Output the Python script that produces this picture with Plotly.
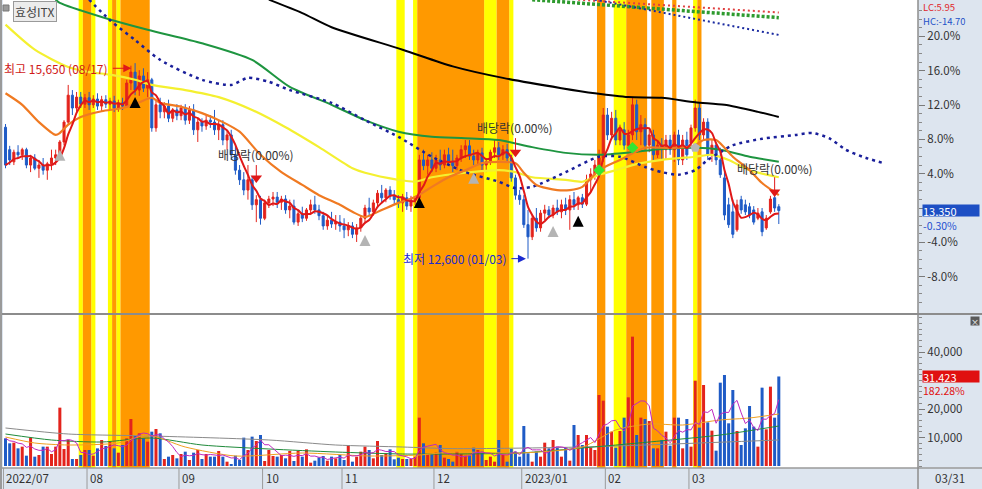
import plotly.graph_objects as go
import pandas as pd

# ---------------- data (daily candles 2022-07-04 .. 2023-03-31, KRW) ----------------
month_labels = ['2022/07', '08', '09', '10', '11', '12', '2023/01', '02', '03']
month_start_idx = [0, 20, 42, 62, 81, 103, 124, 144, 164]
last_date_label = '03/31'

open_ = [14650,14300,14110,14260,14220,14300,14060,14170,14010,14060,
         13980,14080,14170,14220,14420,14730,15150,14950,15120,15010,
         15110,15000,15090,14980,15080,15010,15060,14950,15030,14980,
         15340,15510,15230,15450,15260,15390,14640,15000,14890,14980,
         14790,14920,14830,14950,14760,14920,14610,14730,14670,14760,
         14730,14610,14690,14450,14530,14220,13980,13830,13670,13830,
         13440,13520,13230,13470,13530,13560,13480,13530,13360,13420,
         13170,13300,13230,13360,13440,13360,13270,13110,13200,13140,
         13170,13110,13050,13110,12980,13080,13230,13390,13330,13470,
         13620,13550,13670,13580,13520,13470,13550,13420,13520,13550,
         14140,14050,14140,14010,14140,14060,14220,14110,14050,14170,
         14300,14360,14200,14140,14250,14060,14110,14260,14330,14220,
         14300,14170,13860,13590,13520,13130,12940,13230,13080,13310,
         13360,13280,13390,13330,13440,13360,13520,13440,13550,13450,
         13830,13920,14060,14170,14840,14530,14790,14450,14610,14370,
         14530,15000,14580,14690,14370,14530,14220,14370,14300,14450,
         14300,14530,14140,14450,14400,14640,14950,14530,14730,14220,
         14370,14140,13860,13440,13330,13050,13520,13440,13410,13360,
         13230,13330,13080,13330,13550,13410]
high_ = [14700,14360,14300,14370,14330,14330,14220,14230,14140,14170,
         14110,14300,14300,14450,14760,15310,15230,15200,15200,15170,
         15200,15150,15180,15140,15150,15110,15140,15080,15110,15390,
         15610,15650,15540,15570,15510,15420,15080,15110,15040,15080,
         14950,15010,15000,15010,14980,15010,14790,14790,14840,14840,
         14920,14760,14760,14610,14610,14370,14060,13950,14060,13890,
         13590,13580,13520,13580,13640,13640,13580,13590,13520,13520,
         13360,13410,13390,13520,13580,13440,13330,13280,13330,13280,
         13280,13230,13170,13170,13140,13280,13440,13550,13520,13670,
         13750,13700,13730,13670,13590,13610,13640,13580,13580,14220,
         14300,14220,14260,14220,14300,14300,14330,14300,14220,14370,
         14450,14450,14300,14300,14330,14170,14300,14450,14420,14370,
         14390,14220,13910,13670,13590,13360,13280,13390,13360,13440,
         13420,13440,13520,13520,13550,13590,13640,13580,13610,13910,
         14010,14140,14300,14950,14950,14890,14920,14690,14730,14610,
         15110,15080,14840,14790,14640,14610,14450,14480,14530,14530,
         14580,14610,14530,14580,14690,15080,15030,14790,14790,14450,
         14420,14330,13950,13550,13520,13520,13580,13520,13470,13420,
         13390,13390,13280,13580,13610,13450]
low_ = [14010,14060,14060,14170,14140,14010,13950,13980,13860,13910,
        13830,13980,14060,14170,14370,14690,14840,14890,14950,14950,
        14920,14950,14920,14890,14950,14920,14890,14890,14920,14950,
        15230,15150,15140,15200,15120,14580,14580,14790,14790,14730,
        14730,14760,14760,14690,14700,14530,14420,14580,14610,14640,
        14530,14450,14370,14300,14140,13910,13750,13590,13520,13360,
        13170,13130,13200,13390,13420,13390,13360,13300,13230,13130,
        13110,13170,13190,13280,13300,13200,13050,13050,13080,13050,
        13020,12920,12950,12920,12860,13020,13170,13280,13270,13390,
        13480,13480,13520,13440,13390,13330,13360,13330,13440,13520,
        13980,13910,13950,13950,13980,14010,14060,13950,13980,14110,
        14170,14140,14060,14060,13980,13950,14060,14170,14140,14140,
        14110,13800,13520,13440,13080,12600,12890,13020,13020,13200,
        13230,13230,13280,13230,13280,13050,13360,13360,13390,13420,
        13640,13830,13980,14110,14450,14450,14370,14370,14300,14300,
        14450,14450,14370,14300,14260,14140,14170,14140,14140,14220,
        14110,14060,14060,14140,14330,14580,14450,14450,14140,14110,
        14060,13860,13200,13080,12920,13020,13300,13280,13230,13130,
        13200,12950,13050,13300,13330,13140]
close_ = [14060,14140,14260,14220,14300,14060,14170,14010,14060,13980,
          14080,14170,14220,14420,14730,15150,14950,15120,15010,15110,
          15000,15090,14980,15080,15010,15060,14950,15030,14980,15340,
          15510,15230,15450,15260,15390,14640,15000,14890,14980,14790,
          14920,14830,14950,14760,14920,14610,14730,14670,14760,14730,
          14610,14690,14450,14530,14220,13980,13830,13670,13830,13440,
          13520,13230,13470,13530,13560,13480,13530,13360,13420,13170,
          13300,13230,13360,13440,13360,13270,13110,13200,13140,13170,
          13110,13050,13110,12980,13080,13230,13390,13330,13470,13620,
          13550,13670,13580,13520,13470,13550,13420,13520,13550,14140,
          14050,14140,14010,14140,14060,14220,14110,14050,14170,14300,
          14360,14200,14140,14250,14060,14110,14260,14330,14220,14300,
          14170,13860,13590,13520,13130,12940,13230,13080,13310,13360,
          13280,13390,13330,13440,13360,13520,13440,13550,13450,13830,
          13920,14060,14170,14840,14530,14790,14450,14610,14370,14530,
          15000,14580,14690,14370,14530,14220,14370,14300,14450,14300,
          14530,14140,14450,14220,14640,14950,14530,14730,14220,14370,
          14140,13910,13280,13130,12980,13440,13360,13330,13280,13170,
          13310,13020,13230,13530,13390,13350]
volume = [9710,7960,8190,6200,6790,3630,9950,3280,3860,6790,
          6790,4210,6790,20480,5970,9130,2460,2460,3860,5620,
          5620,3630,6200,9130,7020,8540,6200,4680,7370,9710,
          16500,10530,11470,9710,8540,12050,12990,11470,2460,3280,
          3860,2690,4210,5030,2110,4680,5620,2460,4210,3280,
          3280,5270,3280,1520,700,3630,2110,9950,5620,10300,
          8780,10880,1760,5620,3510,3280,3860,2690,5270,1760,
          5270,3280,5850,1170,1870,3040,3510,1870,3280,2690,
          3860,2110,7370,1520,3280,5030,6790,5620,2690,8780,
          3860,4450,5850,2340,2930,2460,2460,2460,3280,16970,
          7960,4210,4210,4680,7370,2930,2460,1520,5030,4210,
          3630,3630,6430,5620,5030,2110,3280,1520,9130,3860,
          1520,5970,5030,3280,14040,4450,1520,5030,3280,8190,
          6200,9130,6790,3280,6430,1870,14390,10880,7370,10880,
          6430,5620,24920,22930,13810,12050,6430,12290,16970,24100,
          45400,10880,16970,16500,15800,6200,6200,9130,12050,7140,
          16970,16970,6200,16500,6790,29950,13460,28430,15330,12400,
          5380,29250,31940,14980,26680,12290,7370,13220,21060,13810,
          6790,27500,12870,27850,16970,31423]

# moving-average lines (index, value)
ma20_idx = [0,4,8,12,13,15,18,23,28,32,35,37,42,47,52,56,61,66,71,75,80,83,86,90,94,98,102,106,110,114,
            118,122,124,127,132,135,138,142,147,153,157,161,165,167,170,172,174,178,181,185]
ma20_val = [15180,15000,14730,14530,14560,14690,14810,14900,14950,15040,15110,15030,14970,14870,14730,14580,
            14220,13950,13750,13590,13440,13330,13250,13360,13470,13560,13720,13870,13980,14090,14110,14090,
            13940,13750,13670,13670,13720,13980,14140,14330,14330,14330,14370,14450,14450,14330,14190,13980,
            13780,13590]
ma60_idx = [0,7,15,20,25,31,35,43,51,59,67,75,83,86,94,98,102,110,118,122,126,134,138,142,146,150,157,165,
            169,173,178,185]
ma60_val = [16250,15860,15590,15510,15470,15390,15310,15230,15120,14920,14650,14340,14010,13940,13830,13800,
            13870,13940,13980,13950,13870,13830,13800,13910,13980,14060,14140,14190,14220,14140,13980,13870]
ma120_idx = [12,13,23,34,47,59,68,78,86,94,102,110,118,126,134,142,150,157,165,171,178,185]
ma120_val = [16640,16590,16370,16170,15960,15700,15280,15000,14760,14580,14500,14480,14450,14340,14250,14220,
             14260,14310,14330,14300,14190,14110]
ma240_idx = [63,71,78,95,107,119,133,141,149,157,165,172,180,185]
ma240_val = [16640,16430,16210,15860,15600,15420,15260,15180,15120,15110,15040,15000,14890,14810]
lead_idx = [20,25,31,37,47,54,58,63,68,78,86,94,102,110,118,122,126,134,142,147,153,157,161,165,168,171,174,
            181,189,193,197,201,205,210]
lead_val = [16640,16320,16010,15700,15390,15310,15420,15360,15230,15030,14760,14500,14190,13950,13800,13700,
            13720,13950,14190,14190,14030,13950,13910,13980,14140,14260,14370,14470,14530,14560,14480,14300,
            14190,14090]
top_red_idx = [137, 185];   top_red_val = [16640, 16440]
top_green_idx = [126, 185]; top_green_val = [16640, 16360]
top_navy_idx = [141, 185];  top_navy_val = [16640, 16090]

vma20_idx = [0,7,15,27,34,43,55,71,87,99,107,123,138,146,154,162,171,178,185]
vma20_val = [10180,8070,7370,8070,10880,6670,3510,4560,3510,3860,4910,4560,6670,12640,14740,14390,16150,16850,18250]
vma60_idx = [0,11,23,35,47,63,79,95,107,123,138,154,171,185]
vma60_val = [11230,9130,8420,9830,7370,5970,4910,4210,4210,4560,6320,8420,10880,14040]
vma120_idx = [0,15,35,63,79,95,107,138,185]
vma120_val = [13340,11230,10530,9130,7370,6670,6100,6670,9130]

# highlighted days (background colouring)
yellow_days = [18, 21, 25, 27, 94, 95, 98, 115, 116, 117, 121, 146, 147, 148, 165]
orange_days = [19, 20, 26, 28, 29, 30, 31, 32, 33, 34] + list(range(99, 115)) + \
              [118, 119, 120, 142, 143, 149, 150, 151, 152, 153, 155, 156, 157, 160, 166]

# signals
gray_up_idx = [13, 86, 112, 131];  gray_up_val = [14300, 12970, 13940, 13110]
black_up_idx = [31, 99, 137];      black_up_val = [15120, 13560, 13270]
green_sig_idx = [142, 150];        green_sig_val = [13980, 14330]
gray_pent_idx = [165];             gray_pent_val = [14330]
div_idx = [60, 122, 184]; div_tri = [13860, 14260, 13640]; div_top = [14060, 14480, 13870]
div_text_val = [14230, 14650, 14010]
div_text = '배당락(0.00%)'

hi_idx, hi_val, hi_text = 30.1, 15570, '최고 15,650 (08/17)'
lo_idx, lo_val, lo_text = 124.5, 12600, '최저 12,600 (01/03)'
last_price, last_pct = 13350, '-0.30%'
last_vol, last_vol_pct = 31423, '182.28%'
base_price = 13390
pct_ticks = [20, 16, 12, 8, 4, 0, -4, -8]
vol_ticks = [10000, 20000, 40000]

# ---------------- figure ----------------
RED = '#e3231c'
BLUE = '#1f5bc6'
H = 468.0  # plot-area height in px
W = 915.0
n = len(close_)
idx = list(range(n))
ma5 = pd.Series(close_).rolling(5, min_periods=1).mean()
vma5 = pd.Series(volume).rolling(5, min_periods=1).mean()
vol_colors = [RED if c >= o else BLUE for o, c in zip(open_, close_)]

fig = go.Figure()


def runs(days):
    days = sorted(days)
    out = []
    s = p = days[0]
    for d in days[1:]:
        if d == p + 1:
            p = d
        else:
            out.append((s, p))
            s = p = d
    out.append((s, p))
    return out


for col, days in (('#ffff00', yellow_days), ('#ff9900', orange_days)):
    for a, b in runs(days):
        for xr, yr in (('x', 'y domain'), ('x2', 'y2 domain')):
            fig.add_shape(type='rect', xref=xr, yref=yr, x0=a - 0.5, x1=b + 0.5, y0=0, y1=1,
                          fillcolor=col, line_width=0, layer='below')


def line(xs, ys, color, width, dash=None, xa='x', ya='y', shape='spline'):
    fig.add_trace(go.Scatter(x=xs, y=ys, mode='lines', xaxis=xa, yaxis=ya, hoverinfo='skip',
                             showlegend=False,
                             line=dict(color=color, width=width, dash=dash, shape=shape, smoothing=0.7)))


line(ma240_idx, ma240_val, '#000000', 2)
line(ma120_idx, ma120_val, '#1e9540', 2)
line(ma60_idx, ma60_val, '#f4f030', 2.2)
line(lead_idx, lead_val, '#1a1f9a', 2.5, dash='3px,4px')
line(top_green_idx, top_green_val, '#2e9a2e', 3.5, dash='3px,2px', shape='linear')
line(top_red_idx, top_red_val, '#e04040', 2, dash='2px,3px', shape='linear')
line(top_navy_idx, top_navy_val, '#1a2aa0', 2, dash='2px,3px', shape='linear')
line(ma20_idx, ma20_val, '#f07a22', 2.2)

fig.add_trace(go.Candlestick(x=idx, open=open_, high=high_, low=low_, close=close_,
                             xaxis='x', yaxis='y', whiskerwidth=0, hoverinfo='skip', showlegend=False,
                             increasing=dict(line=dict(color=RED, width=1), fillcolor=RED),
                             decreasing=dict(line=dict(color=BLUE, width=1), fillcolor=BLUE)))
line(idx, ma5, '#e01818', 2)

fig.add_trace(go.Scatter(x=gray_up_idx, y=gray_up_val, mode='markers', hoverinfo='skip', showlegend=False,
                         marker=dict(symbol='arrow-up', size=11, color='#b4b4b4')))
fig.add_trace(go.Scatter(x=black_up_idx, y=black_up_val, mode='markers', hoverinfo='skip', showlegend=False,
                         marker=dict(symbol='arrow-up', size=11, color='#000000')))
fig.add_trace(go.Scatter(x=green_sig_idx, y=green_sig_val, mode='markers', hoverinfo='skip', showlegend=False,
                         marker=dict(symbol='diamond', size=9, color='#33e633')))
fig.add_trace(go.Scatter(x=gray_pent_idx, y=gray_pent_val, mode='markers', hoverinfo='skip', showlegend=False,
                         marker=dict(symbol='pentagon', size=10, color='#b8b8b8')))
seg_x, seg_y = [], []
for i, t, tp in zip(div_idx, div_tri, div_top):
    seg_x += [i, i, None]
    seg_y += [tp, t, None]
fig.add_trace(go.Scatter(x=seg_x, y=seg_y, mode='lines', hoverinfo='skip', showlegend=False,
                         line=dict(color='#e01818', width=1)))
fig.add_trace(go.Scatter(x=div_idx, y=div_tri, mode='markers', hoverinfo='skip', showlegend=False,
                         marker=dict(symbol='triangle-down', size=10, color='#e01818')))

# volume
fig.add_trace(go.Bar(x=idx, y=volume, marker=dict(color=vol_colors, line_width=0), width=0.72,
                     xaxis='x2', yaxis='y2', hoverinfo='skip', showlegend=False))
line(vma120_idx, vma120_val, '#8a8a8a', 1, xa='x2', ya='y2')
line(vma60_idx, vma60_val, '#1f8a3a', 1, xa='x2', ya='y2')
line(vma20_idx, vma20_val, '#f0a020', 1, xa='x2', ya='y2')
line(idx, vma5, '#c028c0', 1, xa='x2', ya='y2', shape='linear')

# ---------------- annotations ----------------
ann = []
FONT = 'Noto Sans CJK KR, Noto Sans, DejaVu Sans'
RX = (922 - 3) / W  # left edge of right-hand label column
for i, v in zip(div_idx, div_text_val):
    ann.append(dict(x=i, y=v, xref='x', yref='y', text=div_text, showarrow=False,
                    font=dict(size=12, color='#333333')))
ann.append(dict(x=hi_idx, y=hi_val, xref='x', yref='y', text='', showarrow=True, ax=-20, ay=0,
                arrowhead=2, arrowsize=1.6, arrowwidth=1, arrowcolor='#e01818'))
ann.append(dict(x=hi_idx, y=hi_val, xref='x', yref='y', text=hi_text, showarrow=False, xanchor='right',
                xshift=-21, font=dict(size=12, color='#d01818')))
ann.append(dict(x=lo_idx, y=lo_val, xref='x', yref='y', text='', showarrow=True, ax=-16, ay=0,
                arrowhead=2, arrowsize=1.6, arrowwidth=1, arrowcolor='#1a2ad0'))
ann.append(dict(x=lo_idx, y=lo_val, xref='x', yref='y', text=lo_text, showarrow=False, xanchor='right',
                xshift=-17, font=dict(size=12, color='#1a2ad0')))
for m, lab in zip(month_start_idx, month_labels):
    ann.append(dict(x=m - 0.5, xref='x', y=-10 / H, yref='paper', text=lab, showarrow=False,
                    xanchor='left', yanchor='middle', xshift=1, font=dict(size=11.5, color='#333333')))
ann.append(dict(x=(950 - 3) / W, xref='paper', y=-10 / H, yref='paper', text=last_date_label,
                showarrow=False, xanchor='center', yanchor='middle', font=dict(size=11.5, color='#333333')))
ann.append(dict(x=RX, xref='paper', y=1 - 7 / H, yref='paper', text='LC:5.95', showarrow=False,
                xanchor='left', yanchor='middle', height=11, borderpad=0, font=dict(size=9.5, color='#e0262b')))
ann.append(dict(x=RX, xref='paper', y=1 - 21 / H, yref='paper', text='HC:-14.70', showarrow=False,
                xanchor='left', yanchor='middle', height=11, borderpad=0, font=dict(size=9.5, color='#2452c8')))
ann.append(dict(x=RX, xref='paper', y=last_price, yref='y', text=f'{last_price:,}',
                showarrow=False, xanchor='left', yanchor='middle', bgcolor='#1d4fc4', width=56, height=11,
                align='left', borderpad=0, font=dict(size=11, color='white')))
ann.append(dict(x=RX, xref='paper', y=1 - 225 / H, yref='paper', text=last_pct, showarrow=False,
                xanchor='left', yanchor='middle', height=11, borderpad=0, font=dict(size=10.5, color='#1f4fd0')))
ann.append(dict(x=RX, xref='paper', y=last_vol, yref='y2', text=f'{last_vol:,}',
                showarrow=False, xanchor='left', yanchor='middle', bgcolor='#e01010', width=56, height=11,
                align='left', borderpad=0, font=dict(size=11, color='white')))
ann.append(dict(x=RX, xref='paper', y=1 - 390.5 / H, yref='paper', text=last_vol_pct, showarrow=False,
                xanchor='left', yanchor='middle', height=11, borderpad=0, font=dict(size=10.5, color='#e01010')))
ann.append(dict(x=(13 - 3) / W, xref='paper', y=1 - 1 / H, yref='paper', text='효성ITX', showarrow=False,
                xanchor='left', yanchor='top', bgcolor='#ececec', bordercolor='#9a9a9a', borderwidth=1,
                borderpad=1, font=dict(size=12, color='#444444')))
ann.append(dict(x=(975 - 3) / W, xref='paper', y=1 - 321 / H, yref='paper', text='×', showarrow=False,
                xanchor='center', yanchor='middle',
                bgcolor='#5a5a5a', width=8, height=8, borderpad=0, font=dict(size=8, color='white')))

shapes = [
    dict(type='rect', xref='paper', yref='paper', x0=(3 - 3) / W, x1=(9 - 3) / W, y0=1 - 11 / H, y1=1 - 5 / H,
         fillcolor='#9a9a9a', line=dict(color='#777', width=1)),
    dict(type='line', xref='paper', yref='paper', x0=-3 / W, x1=979 / W, y0=1 - 314 / H, y1=1 - 314 / H,
         line=dict(color='#8c8c8c', width=2)),
    dict(type='line', xref='paper', yref='paper', x0=-3 / W, x1=979 / W, y0=0, y1=0,
         line=dict(color='#9a9a9a', width=1.5)),
    dict(type='line', xref='paper', yref='paper', x0=1, x1=1, y0=-21 / H, y1=1,
         line=dict(color='#8c8c8c', width=1.5)),
    dict(type='line', xref='paper', yref='paper', x0=-2 / W, x1=-2 / W, y0=-21 / H, y1=1,
         line=dict(color='#9a9a9a', width=2)),
]
for m in month_start_idx:
    shapes.append(dict(type='line', xref='x', yref='paper', x0=m - 0.5, x1=m - 0.5, y0=-21 / H, y1=0,
                       line=dict(color='#9a9a9a', width=1)))
for s in shapes:
    fig.add_shape(**s)

pct_vals = [base_price * (1 + p / 100) for p in pct_ticks]
pct_text = ['' if p == 0 else f'{p:.1f}%' for p in pct_ticks]
minor_vals = [base_price * (1 + p / 100) for p in range(-13, 26) if p % 4]

fig.update_layout(
    width=982, height=489, margin=dict(l=3, r=64, t=0, b=21),
    paper_bgcolor='#dde5ef', plot_bgcolor='#ffffff', showlegend=False,
    font=dict(family=FONT, size=11, color='#333333'),
    annotations=ann,
    xaxis=dict(domain=[0, 1], anchor='y', range=[-0.6, 218.3], showticklabels=False, showgrid=False,
               zeroline=False, ticks='', rangeslider=dict(visible=False), fixedrange=True),
    xaxis2=dict(domain=[0, 1], anchor='y2', matches='x', showticklabels=False, showgrid=False,
                zeroline=False, ticks=''),
    yaxis=dict(domain=[1 - 313 / H, 1], side='right', range=[11752, 16635], tickmode='array',
               tickvals=pct_vals, ticktext=pct_text, ticks='outside', ticklen=6, tickcolor='#7a7a7a',
               showline=False, showgrid=False, zeroline=False, tickfont=dict(size=11.5, color='#333333'),
               minor=dict(tickmode='array', tickvals=minor_vals, ticks='outside', ticklen=3, tickcolor='#8a8a8a')),
    yaxis2=dict(domain=[0, 1 - 315 / H], side='right', range=[-702, 53000], tickmode='array',
                tickvals=vol_ticks, ticktext=[f'{v:,}' for v in vol_ticks], ticks='outside', ticklen=6,
                tickcolor='#7a7a7a', showline=False, showgrid=False, zeroline=False,
                tickfont=dict(size=11.5, color='#333333'),
                minor=dict(tickmode='linear', tick0=0, dtick=2000, ticks='outside', ticklen=3, tickcolor='#8a8a8a')),
)

fig.write_html('out.html', config={'displayModeBar': False},
               post_script="document.body.style.margin='0';document.body.style.overflow='hidden';")
